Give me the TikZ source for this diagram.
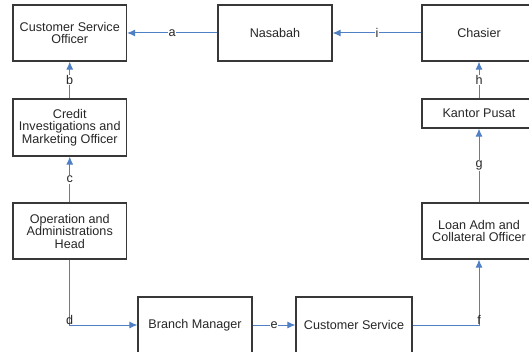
\documentclass[tikz,border=0pt]{standalone}
\usepackage{fontspec}
\setmainfont{Liberation Sans}
\usetikzlibrary{arrows.meta}

\tikzstyle{org-box}=[draw={BoxLine}, line width=1.2pt, text={BoxText}, align=center,
  minimum width=113.5pt, minimum height=56pt, inner sep=0pt,
  font=\fontsize{12.6}{12.5}\selectfont]
\tikzstyle{org-flow}=[draw={FlowBlue}, line width=1pt, -{Latex[length=8pt,width=7pt]}]
\tikzstyle{flow-label}=[fill=white, inner sep=0.6pt, text={BoxText},
  font=\fontsize{12.6}{12.5}\selectfont]
\definecolor{BoxLine}{HTML}{383838}
\definecolor{BoxText}{HTML}{262626}
\definecolor{FlowBlue}{HTML}{4f7fc4}

\begin{document}
\begin{tikzpicture}
      \useasboundingbox (0,0) rectangle (529pt,-352pt);
      \clip (0,0) rectangle (529pt,-352pt);

      \node (org-cso) at (69.75pt, -33pt)
            [org-box] {Customer Service\\Officer};
      \node (org-nasabah) at (275pt, -33pt)
            [org-box, minimum width=114pt] {Nasabah};
      \node (org-chasier) at (479pt, -33pt)
            [org-box, minimum width=114pt] {Chasier};
      \node (org-cimo) at (69.75pt, -127.5pt)
            [org-box, minimum height=57pt] {Credit\\Investigations and\\Marketing Officer};
      \node (org-pusat) at (479pt, -113.5pt)
            [org-box, minimum width=114pt, minimum height=29pt] {Kantor Pusat};
      \node (org-oah) at (69.75pt, -231pt)
            [org-box] {Operation and\\Administrations\\Head};
      \node (org-loan) at (479pt, -231pt)
            [org-box, minimum width=114pt] {Loan Adm and\\Collateral Officer};
      \node (org-bm) at (195pt, -325pt)
            [org-box, minimum width=114pt] {Branch Manager};
      \node (org-cs) at (354pt, -325pt)
            [org-box, minimum width=116pt] {Customer Service};

      \draw [org-flow] (org-nasabah) -- node[flow-label] {a} (org-cso);
      \draw [org-flow] (org-cimo) -- node[flow-label] {b} (org-cso);
      \draw [org-flow] (org-oah) -- node[flow-label] {c} (org-cimo);
      \draw [org-flow] (org-oah) |- node[flow-label, above, inner sep=0.3pt, fill=none] {d} (org-bm);
      \draw [org-flow] (org-bm) -- node[flow-label] {e} (org-cs);
      \draw [org-flow] (org-cs) -| node[flow-label, above, inner sep=0.3pt, fill=none] {f} (org-loan);
      \draw [org-flow] (org-loan) -- node[flow-label] {g} (org-pusat);
      \draw [org-flow] (org-pusat) -- node[flow-label] {h} (org-chasier);
      \draw [org-flow] (org-chasier) -- node[flow-label] {i} (org-nasabah);
\end{tikzpicture}
\end{document}
